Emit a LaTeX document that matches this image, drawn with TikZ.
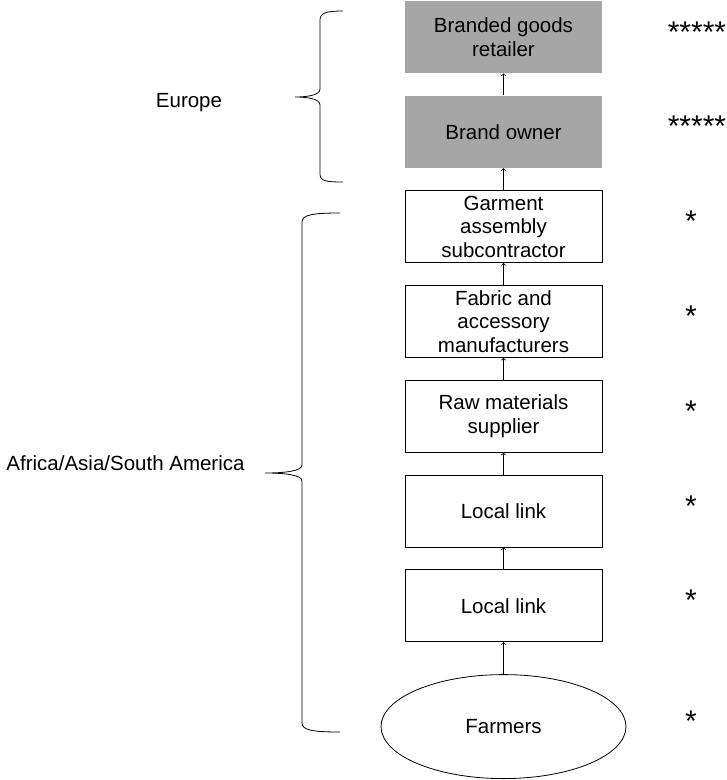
\documentclass[tikz,border=0pt]{standalone}
\usepackage{fontspec}
\setmainfont{Liberation Sans}
\usetikzlibrary{shapes.geometric,positioning}
\definecolor{brandgray}{RGB}{166,166,166}
\begin{document}
\begin{tikzpicture}[x=1pt,y=1pt,line width=0.8pt,node distance=22pt,
stage/.style={
% The shape:
rectangle,
draw=black,
minimum width=197pt,
minimum height=72pt,
inner sep=2pt,
align=center,
font=\fontsize{20.5}{23.5}\selectfont
},
branded/.style={
stage,
draw=none,
fill=brandgray
},
oval/.style={
ellipse,
draw=black,
minimum width=245pt,
minimum height=104pt,
inner sep=0pt,
font=\fontsize{20.5}{23.5}\selectfont
},
rating/.style={
inner sep=0pt,
anchor=base,
yshift=-5pt,
font=\fontsize{30}{30}\selectfont
},
region/.style={
anchor=base,
font=\fontsize{20.5}{23.5}\selectfont
}
]
\useasboundingbox (0,0) rectangle (727,-780);
% Europe:
\node (retailer) [branded] at (503.5,-37) {Branded goods\\retailer};
\node (brand) [branded, below=of retailer] {Brand owner};
% Africa/Asia/South America:
\node (garment) [stage, below=of brand] {Garment\\assembly\\subcontractor};
\node (fabric) [stage, below=of garment] {Fabric and\\accessory\\manufacturers};
\node (raw) [stage, below=of fabric] {Raw materials\\supplier};
\node (link1) [stage, below=of raw] {Local link};
\node (link2) [stage, below=of link1] {Local link};
\node (farmers) [oval, below=32pt of link2] {Farmers};
% stars
\coordinate (manystars) at (697,0);
\coordinate (onestar) at (691,0);
\node (r1) [rating] at (retailer -| manystars) {*****};
\node (r2) [rating] at (brand -| manystars) {*****};
\node (r3) [rating] at (garment -| onestar) {*};
\node (r4) [rating] at (fabric -| onestar) {*};
\node (r5) [rating] at (raw -| onestar) {*};
\node (r6) [rating] at (link1 -| onestar) {*};
\node (r7) [rating] at (link2 -| onestar) {*};
\node (r8) [rating] at (farmers -| onestar) {*};
\path (brand) edge[->] (retailer) (garment) edge[->] (brand) (fabric) edge[->] (garment);
\path (raw) edge[->] (fabric) (link1) edge[->] (raw) (link2) edge[->] (link1);
\path (farmers) edge[->] (link2);
% braces
\draw (343,-11) .. controls (326,-11) and (320,-13) .. (320,-20) -- (320,-89)
  .. controls (320,-95) and (308,-97) .. (295,-97) .. controls (308,-97) and (320,-99) .. (320,-105)
  -- (320,-174) .. controls (320,-181) and (326,-182) .. (343,-182);
\draw (340,-213) .. controls (312,-213) and (302,-215) .. (302,-222) -- (302,-465)
  .. controls (302,-471) and (285,-473) .. (265,-473) .. controls (285,-473) and (302,-475) .. (302,-481)
  -- (302,-723) .. controls (302,-730) and (312,-732) .. (340,-732);
\node (europe) [region] at (189,-107) {Europe};
\node (southern) [region] at (125.5,-470) {Africa/Asia/South America};
\end{tikzpicture}
\end{document}
